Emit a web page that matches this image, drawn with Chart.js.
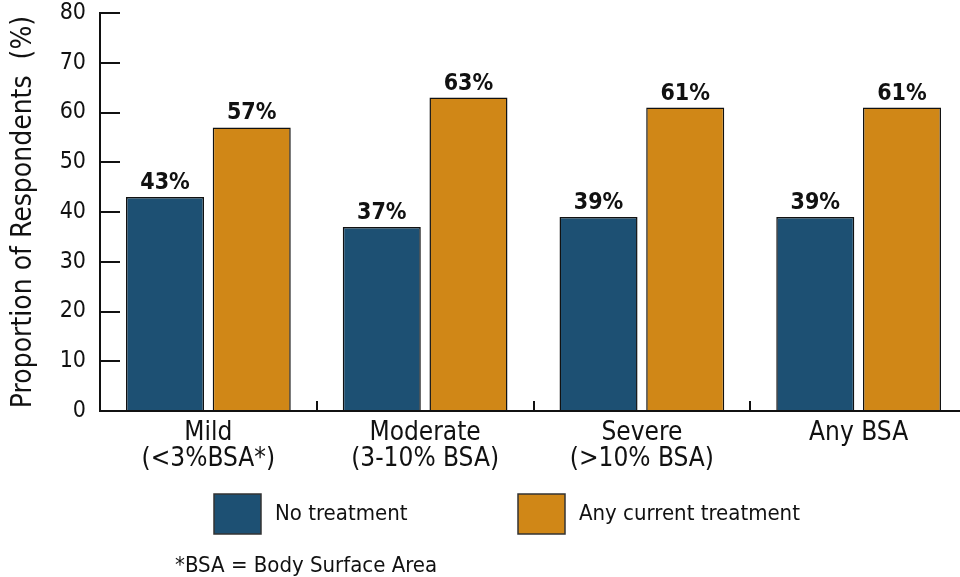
<!DOCTYPE html>
<html>
<head>
<meta charset="utf-8">
<script src="https://cdn.jsdelivr.net/npm/chart.js@4.4.0/dist/chart.umd.min.js"></script>
<style>
  html, body { margin: 0; padding: 0; background: #fff; overflow: hidden; }
  #wrap { width: 968px; height: 577px; }
</style>
</head>
<body>
<div id="wrap"><canvas id="chartBars"></canvas></div>
<script>
// ===== data
const categories = [["Mild", "(<3%BSA*)"], ["Moderate", "(3-10% BSA)"], ["Severe", "(>10% BSA)"], ["Any BSA"]];
const noTreatment = [43, 37, 39, 39];
const anyTreatment = [57, 63, 61, 61];
const yTicks = [0, 10, 20, 30, 40, 50, 60, 70, 80];
const footnote = "*BSA = Body Surface Area";

const FONT = "'DejaVu Sans Condensed', 'DejaVu Sans', sans-serif";
const BLUE = "#1d5073";
const ORANGE = "#d08717";

// ===== value labels above bars
const valueLabels = {
    id: "valueLabels",
    afterDatasetsDraw(chart) {
        const { ctx } = chart;
        ctx.save();
        ctx.font = "bold 23px " + FONT;
        ctx.fillStyle = "#111";
        ctx.textAlign = "center";
        ctx.textBaseline = "alphabetic";
        chart.data.datasets.forEach((ds, i) => {
            chart.getDatasetMeta(i).data.forEach((bar, j) => {
                ctx.fillText(ds.data[j] + "%", bar.x, bar.y - 8);
            });
        });
        ctx.restore();
    },
};

// ===== legend + footnote under the axis
const bottomNotes = {
    id: "bottomNotes",
    afterDraw(chart, args, opts) {
        const { ctx } = chart;
        ctx.save();
        ctx.font = "22px " + FONT;
        ctx.textBaseline = "middle";
        ctx.textAlign = "left";
        chart.data.datasets.forEach((ds, i) => {
            const x = opts.itemX[i];
            ctx.fillStyle = ds.backgroundColor;
            ctx.fillRect(x, opts.boxY, 47, 40);
            ctx.strokeStyle = "#333";
            ctx.lineWidth = 1.5;
            ctx.strokeRect(x, opts.boxY, 47, 40);
            ctx.fillStyle = "#111";
            ctx.fillText(ds.label, x + 61, opts.boxY + 20);
        });
        ctx.fillText(footnote, 175, 566);
        ctx.restore();
    },
};

new Chart(document.getElementById("chartBars"), {
    type: "bar",
    data: {
        labels: categories,
        datasets: [
            {
                label: "No treatment",
                data: noTreatment,
                backgroundColor: BLUE,
                borderColor: "#111",
                borderWidth: 1.5,
            },
            {
                label: "Any current treatment",
                data: anyTreatment,
                backgroundColor: ORANGE,
                borderColor: "#111",
                borderWidth: 1.5,
            },
        ],
    },
    plugins: [valueLabels, bottomNotes],
    options: {
        responsive: true,
        maintainAspectRatio: false,
        animation: false,
        devicePixelRatio: 1,
        categoryPercentage: 0.8,
        barPercentage: 0.9,
        layout: { padding: { top: 13, right: 1, bottom: 86, left: 0 } },
        plugins: {
            legend: { display: false },
            tooltip: { enabled: false },
            bottomNotes: { itemX: [214, 518], boxY: 494 },
        },
        scales: {
            x: {
                afterFit: (s) => { s.height = 80; },
                border: { color: "#111", width: 2 },
                grid: { drawOnChartArea: false, drawTicks: true, tickLength: -10, color: "#111", lineWidth: 2 },
                ticks: {
                    color: "#111",
                    padding: 20,
                    font: { family: FONT, size: 26, lineHeight: 0.97 },
                    maxRotation: 0,
                },
            },
            y: {
                min: 0,
                max: 80,
                afterFit: (s) => {
                    s.width = 100;
                    // inward ticks use a big label padding; keep it out of the layout
                    s.paddingTop = 0;
                    s.paddingBottom = 0;
                },
                afterBuildTicks: (s) => { s.ticks = yTicks.map((v) => ({ value: v })); },
                border: { color: "#111", width: 2 },
                grid: { drawOnChartArea: false, drawTicks: true, tickLength: -20, color: "#111", lineWidth: 2 },
                ticks: {
                    color: "#111",
                    padding: 34,
                    font: { family: FONT, size: 23 },
                },
                title: {
                    display: true,
                    text: "Proportion of Respondents  (%)",
                    color: "#111",
                    font: { family: FONT, size: 28 },
                    padding: { top: 7, bottom: 0 },
                },
            },
        },
    },
});
</script>
</body>
</html>
